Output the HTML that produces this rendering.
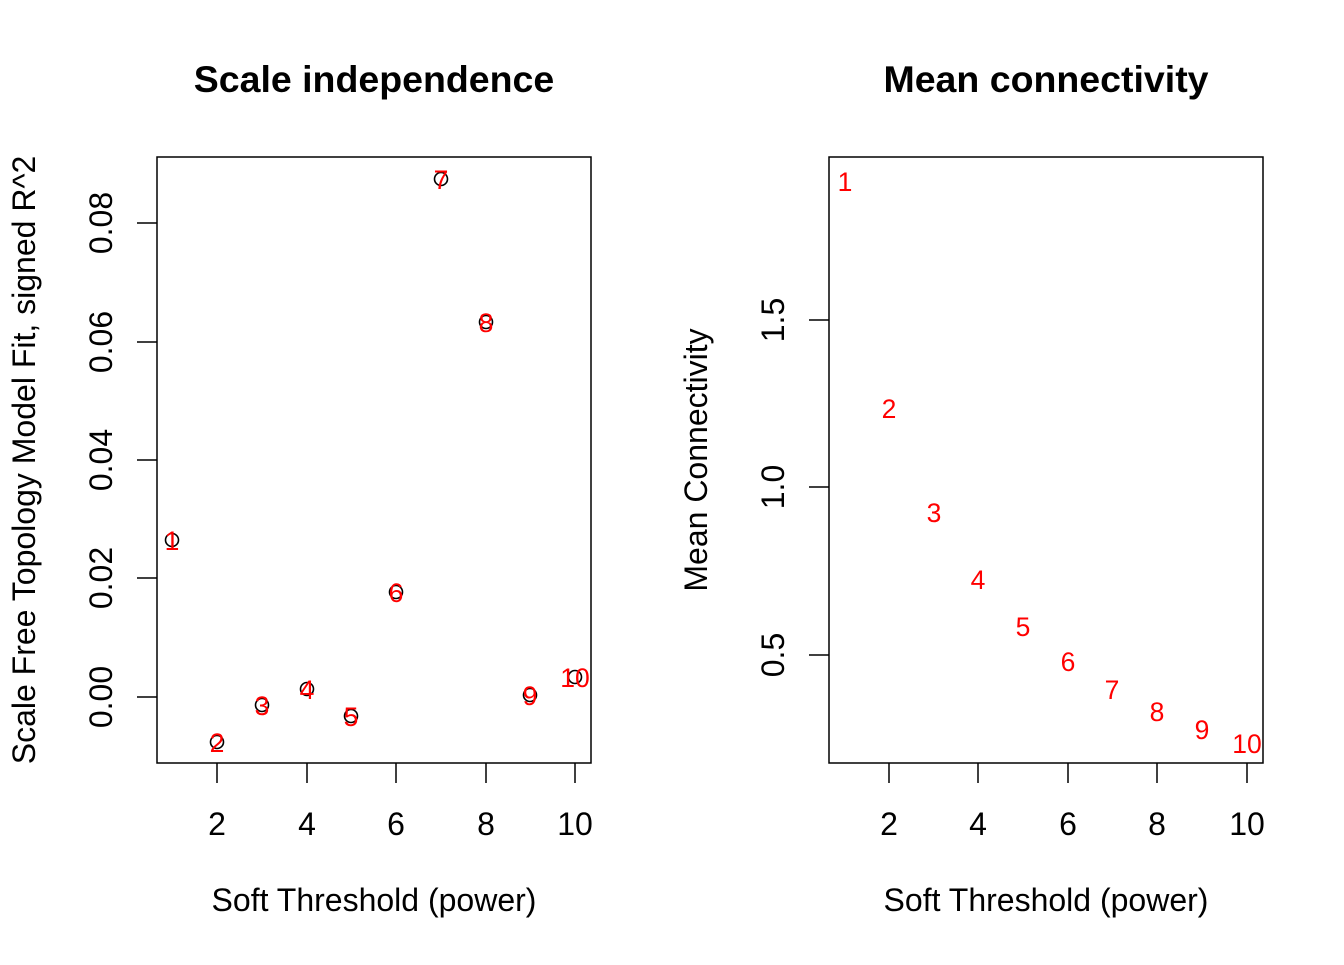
<!DOCTYPE html>
<html><head><style>body{margin:0;background:#fff}</style></head><body>
<svg width="1344" height="960" xmlns="http://www.w3.org/2000/svg" font-family="Liberation Sans, Arial, sans-serif">
<rect width="1344" height="960" fill="#fff"/>
<!-- Left panel -->
<text x="374" y="92" font-size="37.5" font-weight="bold" text-anchor="middle">Scale independence</text>
<rect x="157" y="157" width="434" height="606" fill="none" stroke="#000" stroke-width="1.5"/>
<g stroke="#000" stroke-width="1.5">
<line x1="217" y1="763" x2="217" y2="783"/><line x1="307" y1="763" x2="307" y2="783"/><line x1="396" y1="763" x2="396" y2="783"/><line x1="486" y1="763" x2="486" y2="783"/><line x1="575" y1="763" x2="575" y2="783"/>
<line x1="157" y1="697" x2="137" y2="697"/><line x1="157" y1="578" x2="137" y2="578"/><line x1="157" y1="460" x2="137" y2="460"/><line x1="157" y1="342" x2="137" y2="342"/><line x1="157" y1="223" x2="137" y2="223"/>
</g>
<g font-size="32" text-anchor="middle">
<text x="217" y="835">2</text><text x="307" y="835">4</text><text x="396" y="835">6</text><text x="486" y="835">8</text><text x="575" y="835">10</text>
<text transform="translate(112,697) rotate(-90)">0.00</text>
<text transform="translate(112,578) rotate(-90)">0.02</text>
<text transform="translate(112,460) rotate(-90)">0.04</text>
<text transform="translate(112,342) rotate(-90)">0.06</text>
<text transform="translate(112,223) rotate(-90)">0.08</text>
<text x="374" y="911">Soft Threshold (power)</text>
<text transform="translate(35,460) rotate(-90)">Scale Free Topology Model Fit, signed R^2</text>
</g>
<g fill="none" stroke="#000" stroke-width="1.6">
<circle cx="172" cy="540" r="6.5"/><circle cx="217" cy="742" r="6.5"/><circle cx="262" cy="705" r="6.5"/><circle cx="307" cy="689" r="6.5"/><circle cx="351" cy="716" r="6.5"/><circle cx="396" cy="592" r="6.5"/><circle cx="441" cy="179" r="6.5"/><circle cx="486" cy="322" r="6.5"/><circle cx="530" cy="695" r="6.5"/><circle cx="575" cy="677" r="6.5"/>
</g>
<g fill="#f00" font-size="26.5" text-anchor="middle">
<text x="172" y="550">1</text><text x="217" y="752">2</text><text x="262" y="715">3</text><text x="307" y="699">4</text><text x="351" y="726">5</text><text x="396" y="602">6</text><text x="441" y="189">7</text><text x="486" y="332">8</text><text x="530" y="705">9</text><text x="575" y="687">10</text>
</g>
<!-- Right panel -->
<text x="1046" y="92" font-size="37.5" font-weight="bold" text-anchor="middle">Mean connectivity</text>
<rect x="829" y="157" width="434" height="606" fill="none" stroke="#000" stroke-width="1.5"/>
<g stroke="#000" stroke-width="1.5">
<line x1="889" y1="763" x2="889" y2="783"/><line x1="978" y1="763" x2="978" y2="783"/><line x1="1068" y1="763" x2="1068" y2="783"/><line x1="1157" y1="763" x2="1157" y2="783"/><line x1="1247" y1="763" x2="1247" y2="783"/>
<line x1="829" y1="655" x2="809" y2="655"/><line x1="829" y1="487" x2="809" y2="487"/><line x1="829" y1="320" x2="809" y2="320"/>
</g>
<g font-size="32" text-anchor="middle">
<text x="889" y="835">2</text><text x="978" y="835">4</text><text x="1068" y="835">6</text><text x="1157" y="835">8</text><text x="1247" y="835">10</text>
<text transform="translate(784,655) rotate(-90)">0.5</text>
<text transform="translate(784,487) rotate(-90)">1.0</text>
<text transform="translate(784,320) rotate(-90)">1.5</text>
<text x="1046" y="911">Soft Threshold (power)</text>
<text transform="translate(707,460) rotate(-90)">Mean Connectivity</text>
</g>
<g fill="#f00" font-size="26.5" text-anchor="middle">
<text x="845" y="191">1</text><text x="889" y="418">2</text><text x="934" y="522">3</text><text x="978" y="589">4</text><text x="1023" y="636">5</text><text x="1068" y="671">6</text><text x="1112" y="699">7</text><text x="1157" y="721">8</text><text x="1202" y="739">9</text><text x="1247" y="753">10</text>
</g>
</svg>
</body></html>
